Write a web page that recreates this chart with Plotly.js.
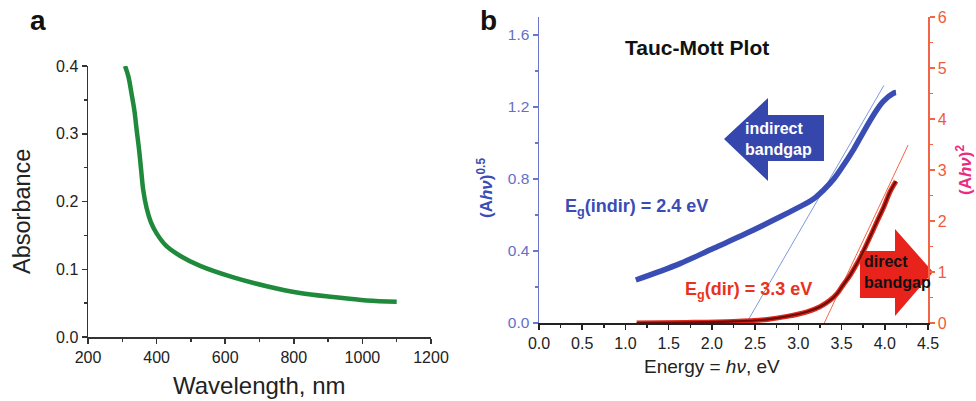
<!DOCTYPE html>
<html>
<head>
<meta charset="utf-8">
<script src="https://cdn.plot.ly/plotly-3.0.1.min.js"></script>
<style>html,body{margin:0;padding:0;background:#fff;}#chart{width:976px;height:401px;}</style>
</head>
<body>
<div id="chart"></div>
<script>
// Panel a: absorbance spectrum
const wavelength = [308, 318, 327, 335, 342, 349, 355, 361, 371, 383, 400, 429, 468, 527, 624, 721, 818, 915, 1012, 1100];
const absorbance = [0.400, 0.384, 0.359, 0.335, 0.305, 0.276, 0.246, 0.217, 0.190, 0.170, 0.153, 0.134, 0.120, 0.105, 0.088, 0.075, 0.065, 0.059, 0.054, 0.052];

// Panel b: Tauc-Mott plot
const energyIndir = [1.12, 1.63, 2.02, 2.40, 2.79, 2.98, 3.17, 3.29, 3.41, 3.52, 3.64, 3.75, 3.87, 3.98, 4.10, 4.13];
const ahv05 = [0.239, 0.33, 0.415, 0.498, 0.59, 0.637, 0.687, 0.738, 0.80, 0.875, 0.965, 1.058, 1.156, 1.23, 1.276, 1.28];
const energyDir = [1.13, 1.7, 2.25, 2.64, 2.87, 3.10, 3.25, 3.37, 3.45, 3.52, 3.60, 3.68, 3.75, 3.83, 3.91, 3.99, 4.06, 4.13];
const ahv2 = [0.0, 0.01, 0.03, 0.07, 0.13, 0.22, 0.32, 0.45, 0.58, 0.75, 0.94, 1.17, 1.40, 1.69, 1.99, 2.28, 2.57, 2.78];
const fitIndirX = [2.4, 3.99];
const fitIndirY = [0.0, 1.32];
const fitDirX = [3.3, 4.27];
const fitDirY = [0.0, 3.49];

const xTicksA = [200, 400, 600, 800, 1000, 1200];
const yTicksA = [0.0, 0.1, 0.2, 0.3, 0.4];
const xTicksB = [0, 0.5, 1.0, 1.5, 2.0, 2.5, 3.0, 3.5, 4.0, 4.5];
const yTicksBLeft = [0.0, 0.4, 0.8, 1.2, 1.6];
const yTicksBRight = [0, 1, 2, 3, 4, 5, 6];

const FONT = 'Liberation Sans, Arial, sans-serif';
const W = 976, H = 401;
const px = v => v / W;
const py = v => 1 - v / H;

const traces = [
  {x: wavelength, y: absorbance, xaxis: 'x', yaxis: 'y', mode: 'lines', line: {color: '#1f8a3c', width: 4.5, shape: 'spline', smoothing: 1}, hoverinfo: 'skip'},
  {x: fitIndirX, y: fitIndirY, xaxis: 'x2', yaxis: 'y2', mode: 'lines', line: {color: '#7f9ae0', width: 1}, hoverinfo: 'skip'},
  {x: energyIndir, y: ahv05, xaxis: 'x2', yaxis: 'y2', mode: 'lines', line: {color: '#3a4db4', width: 5.5, shape: 'spline', smoothing: 1}, hoverinfo: 'skip'},
  {x: fitDirX, y: fitDirY, xaxis: 'x2', yaxis: 'y3', mode: 'lines', line: {color: '#f26a4a', width: 1}, hoverinfo: 'skip'},
  {x: energyDir, y: ahv2, xaxis: 'x2', yaxis: 'y3', mode: 'lines', line: {color: '#e0281c', width: 5, shape: 'spline', smoothing: 1}, hoverinfo: 'skip'},
  {x: energyDir, y: ahv2, xaxis: 'x2', yaxis: 'y3', mode: 'lines', line: {color: '#6a0e0a', width: 2.2, shape: 'spline', smoothing: 1}, hoverinfo: 'skip'}
];

const tickFont = (c, s) => ({family: FONT, size: s, color: c});

function ann(text, x, y, size, color, extra) {
  return Object.assign({text: text, xref: 'paper', yref: 'paper', x: px(x), y: py(y), xanchor: 'center', yanchor: 'middle',
    showarrow: false, font: {family: FONT, size: size, color: color}}, extra || {});
}

const layout = {
  width: W, height: H,
  margin: {l: 0, r: 0, t: 0, b: 0},
  paper_bgcolor: '#fff', plot_bgcolor: 'rgba(0,0,0,0)',
  showlegend: false,
  font: {family: FONT},
  xaxis: {
    domain: [px(88), px(431)], range: [200, 1200], anchor: 'y',
    tickvals: xTicksA, ticktext: xTicksA.map(String),
    showline: true, linecolor: '#333', linewidth: 1.5,
    ticks: 'outside', ticklen: 5, tickwidth: 1.5, tickcolor: '#333',
    minor: {dtick: 100, tick0: 200, ticks: 'outside', ticklen: 3, tickcolor: '#333', showgrid: false},
    showgrid: false, zeroline: false, tickfont: tickFont('#222', 16)
  },
  yaxis: {
    domain: [py(337), py(66)], range: [0, 0.4], anchor: 'x',
    tickvals: yTicksA, ticktext: yTicksA.map(v => v.toFixed(1)),
    showline: true, linecolor: '#333', linewidth: 1.5,
    ticks: 'outside', ticklen: 5, tickwidth: 1.5, tickcolor: '#333',
    minor: {dtick: 0.05, tick0: 0, ticks: 'outside', ticklen: 3, tickcolor: '#333', showgrid: false},
    showgrid: false, zeroline: false, tickfont: tickFont('#222', 16)
  },
  xaxis2: {
    domain: [px(539), px(928)], range: [0, 4.5], anchor: 'y2',
    tickvals: xTicksB, ticktext: xTicksB.map(v => v.toFixed(1)),
    showline: true, linecolor: '#222', linewidth: 1.5,
    ticks: 'outside', ticklen: 5, tickwidth: 1.5, tickcolor: '#222',
    minor: {dtick: 0.25, tick0: 0, ticks: 'outside', ticklen: 3, tickcolor: '#222', showgrid: false},
    showgrid: false, zeroline: false, tickfont: tickFont('#222', 16)
  },
  yaxis2: {
    domain: [py(323), py(17)], range: [0, 1.7], anchor: 'x2',
    tickvals: yTicksBLeft, ticktext: yTicksBLeft.map(v => v.toFixed(1)),
    showline: true, linecolor: '#6c76c8', linewidth: 1.5,
    ticks: 'outside', ticklen: 5, tickwidth: 1.5, tickcolor: '#6c76c8',
    minor: {dtick: 0.2, tick0: 0, ticks: 'outside', ticklen: 3, tickcolor: '#6c76c8', showgrid: false},
    showgrid: false, zeroline: false, tickfont: tickFont('#6470c4', 15.5)
  },
  yaxis3: {
    domain: [py(323), py(17)], range: [0, 6], anchor: 'x2', overlaying: 'y2', side: 'right',
    tickvals: yTicksBRight, ticktext: yTicksBRight.map(String),
    showline: true, linecolor: '#f26446', linewidth: 1.5,
    ticks: 'outside', ticklen: 5, tickwidth: 1.5, tickcolor: '#f26446',
    minor: {dtick: 0.5, tick0: 0, ticks: 'outside', ticklen: 3, tickcolor: '#f26446', showgrid: false},
    showgrid: false, zeroline: false, tickfont: tickFont('#f05a3c', 16)
  },
  shapes: [
    {type: 'path', xref: 'paper', yref: 'paper', layer: 'below', fillcolor: '#3546ad', line: {width: 0},
     path: 'M' + px(724) + ',' + py(139) + ' L' + px(768) + ',' + py(98) + ' L' + px(768) + ',' + py(115) +
           ' L' + px(824) + ',' + py(115) + ' L' + px(824) + ',' + py(161) + ' L' + px(768) + ',' + py(161) +
           ' L' + px(768) + ',' + py(181) + ' Z'},
    {type: 'path', xref: 'paper', yref: 'paper', layer: 'below', fillcolor: '#e8231c', line: {width: 0},
     path: 'M' + px(860) + ',' + py(251) + ' L' + px(895) + ',' + py(251) + ' L' + px(895) + ',' + py(229) +
           ' L' + px(933) + ',' + py(272) + ' L' + px(895) + ',' + py(316) + ' L' + px(895) + ',' + py(298) +
           ' L' + px(860) + ',' + py(298) + ' Z'}
  ],
  annotations: [
    ann('<b>a</b>', 38, 20, 28, '#111'),
    ann('<b>b</b>', 488, 20, 28, '#111'),
    ann('Absorbance', 22, 212, 23.5, '#222', {textangle: -90}),
    ann('Wavelength, nm', 259, 385, 24, '#222'),
    ann('Energy = <i>hν</i>, eV', 712, 366, 19, '#222'),
    ann('<b>(A<i>hν</i>)<sup>0.5</sup></b>', 485, 188, 17, '#3a4db4', {textangle: -90}),
    ann('<b>(A<i>hν</i>)<sup>2</sup></b>', 964, 170, 17, '#ec2a80', {textangle: -90}),
    ann('<b>Tauc-Mott Plot</b>', 697, 47, 21, '#111'),
    ann('<b>E<sub>g</sub>(indir) = 2.4 eV</b>', 636, 207, 18, '#3a4db4'),
    ann('<b>E<sub>g</sub>(dir) = 3.3 eV</b>', 748, 290, 18, '#e8321e'),
    ann('<b>indirect<br>bandgap</b>', 743, 139, 16, '#fff', {xanchor: 'left', align: 'left'}),
    ann('<b>direct<br>bandgap</b>', 862, 272, 16, '#111', {xanchor: 'left', align: 'left'})
  ]
};

Plotly.newPlot('chart', traces, layout, {staticPlot: true, displayModeBar: false});
</script>
</body>
</html>
